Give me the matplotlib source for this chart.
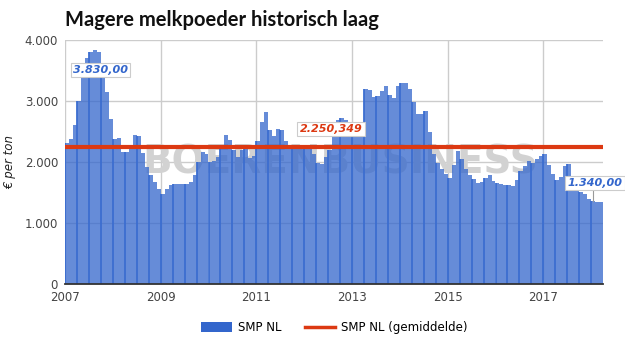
import matplotlib
matplotlib.use("Agg")
import matplotlib.pyplot as plt
from matplotlib.patches import Patch
from matplotlib.lines import Line2D
import numpy as np

# Monthly SMP NL prices (EUR/ton), Jan 2007 .. Mar 2018
start_year = 2007
prices = [
    2320, 2380, 2600, 3000, 3400, 3700, 3800, 3830, 3810, 3550, 3150, 2700,   # 2007
    2380, 2400, 2170, 2170, 2250, 2450, 2420, 2150, 1920, 1780, 1680, 1560,   # 2008
    1480, 1560, 1630, 1640, 1640, 1640, 1640, 1680, 1780, 2000, 2170, 2140,   # 2009
    2000, 2020, 2080, 2230, 2450, 2360, 2200, 2080, 2200, 2250, 2060, 2100,   # 2010
    2350, 2650, 2820, 2520, 2420, 2550, 2520, 2350, 2280, 2280, 2280, 2280,   # 2011
    2270, 2240, 2140, 1990, 1970, 2080, 2200, 2470, 2690, 2715, 2690, 2660,   # 2012
    2650, 2650, 2660, 3200, 3180, 3070, 3080, 3170, 3250, 3100, 3050, 3250,   # 2013
    3300, 3290, 3200, 2980, 2780, 2780, 2830, 2500, 2140, 1980, 1880, 1800,   # 2014
    1740, 1950, 2180, 2050, 1880, 1780, 1730, 1660, 1680, 1740, 1780, 1690,   # 2015
    1650, 1640, 1630, 1620, 1600, 1700, 1850, 1930, 2020, 1990, 2050, 2100,   # 2016
    2140, 1950, 1800, 1710, 1760, 1930, 1970, 1750, 1580, 1510, 1480, 1400,   # 2017
    1360, 1340, 1340,                                                         # 2018
]
average = 2250.349
peak_label = "3.830,00"
avg_label = "2.250,349"
last_label = "1.340,00"
year_ticks = [2007, 2009, 2011, 2013, 2015, 2017]
y_ticks = [0, 1000, 2000, 3000, 4000]
y_ticklabels = ["0", "1.000", "2.000", "3.000", "4.000"]
title = "Magere melkpoeder historisch laag"
series_name = "SMP NL"
avg_name = "SMP NL (gemiddelde)"
watermark = "BOERENBUSINESS"

BLUE = "#3366cc"
RED = "#dc3912"

n = len(prices)
x = start_year + (np.arange(n) + 0.5) / 12.0
xmax = start_year + n / 12.0

fig = plt.figure(figsize=(6.25, 3.55), dpi=100)
ax = fig.add_axes([0.104, 0.2, 0.861, 0.687])

# watermark behind bars
ax.text(2012.75, 2000, watermark, ha="center", va="center", fontsize=28,
        fontweight="heavy", color="#d2d2d2", family="DejaVu Sans", zorder=1)

bars = ax.bar(x, prices, width=1 / 12.0, color=BLUE, alpha=0.75, linewidth=0, zorder=2)
for b in bars:
    b.set_antialiased(False)
# darker stripe artifacts every quarter
qi = np.arange(0, n, 3)
ax.vlines(start_year + qi / 12.0, 0, np.array(prices)[qi], color="#3c6ed0",
          linewidth=1.3, zorder=3)

ax.axhline(average, color=RED, linewidth=3, zorder=4)

ax.set_xlim(start_year, xmax)
ax.set_ylim(0, 4000)
ax.set_xticks(year_ticks)
ax.set_xticklabels([str(t) for t in year_ticks], fontsize=8.5, color="#444444",
                   family="DejaVu Sans")
ax.set_yticks(y_ticks)
ax.set_yticklabels(y_ticklabels, fontsize=8.5, color="#444444", family="DejaVu Sans")
ax.tick_params(length=0, pad=5)
ax.grid(True, color="#cccccc", linewidth=1, zorder=0)
ax.set_axisbelow(True)
for s in ["top", "right", "left"]:
    ax.spines[s].set_visible(False)
ax.spines["bottom"].set_color("#333333")
ax.spines["bottom"].set_linewidth(1.3)
ax.spines["bottom"].set_zorder(6)

ax.set_ylabel("€ per ton", fontsize=8.5, style="italic", color="#222222", labelpad=6)

fig.text(0.104, 0.945, title, fontsize=14.5, fontweight="bold", color="#111111",
         family="Lato", va="center", ha="left")

box = dict(boxstyle="square,pad=0.2", fc="white", ec="#cccccc", lw=0.8)
imax = int(np.argmax(prices))
ax.text(x[imax] + 0.12, prices[imax] - 320, peak_label, fontsize=8, fontweight="bold",
        style="italic", color=BLUE, ha="center", va="center", bbox=box, zorder=7)
ax.text(2012.56, average + 290, avg_label, fontsize=8, fontweight="bold",
        style="italic", color=RED, ha="center", va="center", bbox=box, zorder=7)
ax.plot([x[-3], x[-3]], [prices[-3], prices[-3] + 160], color="#999999", lw=0.8,
        zorder=7, clip_on=False)
ax.text(x[-3] - 0.54, prices[-3] + 300, last_label, fontsize=8, fontweight="bold",
        style="italic", color=BLUE, ha="left", va="center", bbox=box, zorder=7,
        clip_on=False)

handles = [Patch(facecolor=BLUE, edgecolor="none"),
           Line2D([0], [0], color=RED, lw=2.5)]
fig.legend(handles, [series_name, avg_name], loc="center", bbox_to_anchor=(0.535, 0.077),
           ncol=2, frameon=False, fontsize=8.5, handlelength=2.6, handleheight=1.0,
           columnspacing=2.0, handletextpad=0.5)

fig.savefig("out.png", dpi=100)
